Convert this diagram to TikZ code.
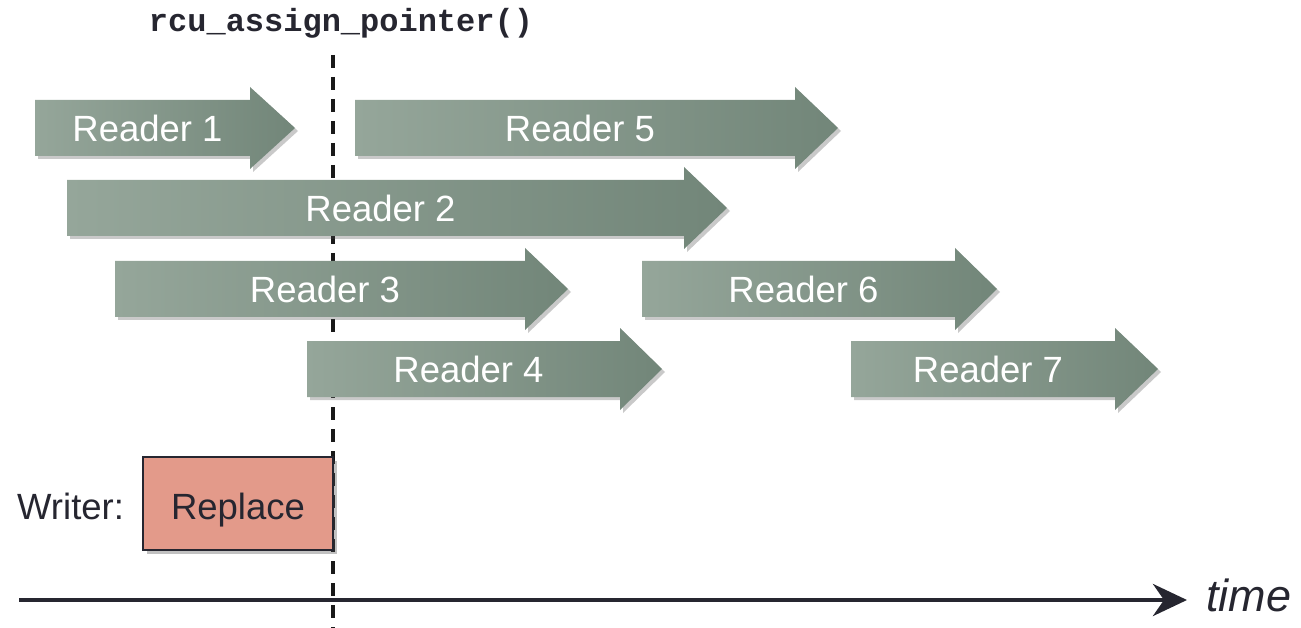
\documentclass[tikz,border=0pt]{standalone}
\usepackage{fontspec}
\setmainfont{Liberation Sans}
\newfontfamily\codefont{Liberation Mono}
\usetikzlibrary{arrows.meta,shadows}

\definecolor{arrowlight}{RGB}{149,166,154}
\definecolor{arrowdark}{RGB}{114,134,121}
\definecolor{inkdark}{RGB}{38,38,48}
\definecolor{writerfill}{RGB}{227,154,138}

\tikzset{
  readerbody/.style={left color=arrowlight, right color=arrowdark,
    drop shadow={shadow xshift=3pt, shadow yshift=-3pt, opacity=0.3, fill=black!70}},
  readerlabel/.style={text=white, font=\fontsize{36.5}{42}\selectfont, inner sep=0pt},
  plainlabel/.style={text=inkdark, font=\fontsize{36.5}{42}\selectfont, inner sep=0pt},
  writerbox/.style={draw=inkdark, line width=2.5pt, fill=writerfill,
    minimum width=190pt, minimum height=93pt, inner sep=0pt,
    drop shadow={shadow xshift=4pt, shadow yshift=-4pt, opacity=0.35, fill=black!70}},
  syncline/.style={draw=black!90, line width=3.6pt, dash pattern=on 13pt off 9pt},
  timeline/.style={draw=inkdark, line width=4.5pt,
    -{Stealth[length=34pt, width=32pt, inset=11pt]}},
}

% #1 name, #2 left edge, #3 head base, #4 tip, #5 centre line, #6 label
\newcommand{\readerarrow}[6]{%
  \path[readerbody] (#2,#5-28) -- (#3,#5-28) -- (#3,#5-41) -- (#4,#5)
    -- (#3,#5+41) -- (#3,#5+28) -- (#2,#5+28) -- cycle;
  \node[readerlabel] (#1) at ({(#2+#3)/2+5},#5) {#6};
}

\begin{document}
\begin{tikzpicture}[x=1pt,y=-1pt]
  \useasboundingbox (0,0) rectangle (1301,628);

  % grace-period boundary
  \node[text=inkdark, font=\codefont\bfseries\fontsize{32}{36}\selectfont,
        anchor=base, inner sep=0pt] (assign) at (341,32) {rcu\_assign\_pointer()};
  \coordinate (synctop) at (333,55);
  \coordinate (syncbot) at (333,628);
  \draw[syncline] (synctop) -- (syncbot);

  % readers
  \readerarrow{r1}{35}{250}{295}{128}{Reader 1}
  \readerarrow{r5}{355}{795}{838}{128}{Reader 5}
  \readerarrow{r2}{67}{684}{727}{208}{Reader 2}
  \readerarrow{r3}{115}{525}{568}{289}{Reader 3}
  \readerarrow{r6}{642}{955}{997}{289}{Reader 6}
  \readerarrow{r4}{307}{620}{662}{369}{Reader 4}
  \readerarrow{r7}{851}{1115}{1158}{369}{Reader 7}

  % writer
  \node[writerbox] (replace) at (238,503.5) {};
  \node[plainlabel, anchor=base] (replacetext) at (238,519) {Replace};
  \node[plainlabel, anchor=base west] (writer) at (17,519) {Writer:};

  % time axis
  \coordinate (tstart) at (19,600);
  \coordinate (tend) at (1187,600);
  \draw[timeline] (tstart) -- (tend);
  \node[text=inkdark, font=\itshape\fontsize{45}{50}\selectfont,
        anchor=base west, inner sep=0pt] (time) at (1206,611) {time};
\end{tikzpicture}
\end{document}
